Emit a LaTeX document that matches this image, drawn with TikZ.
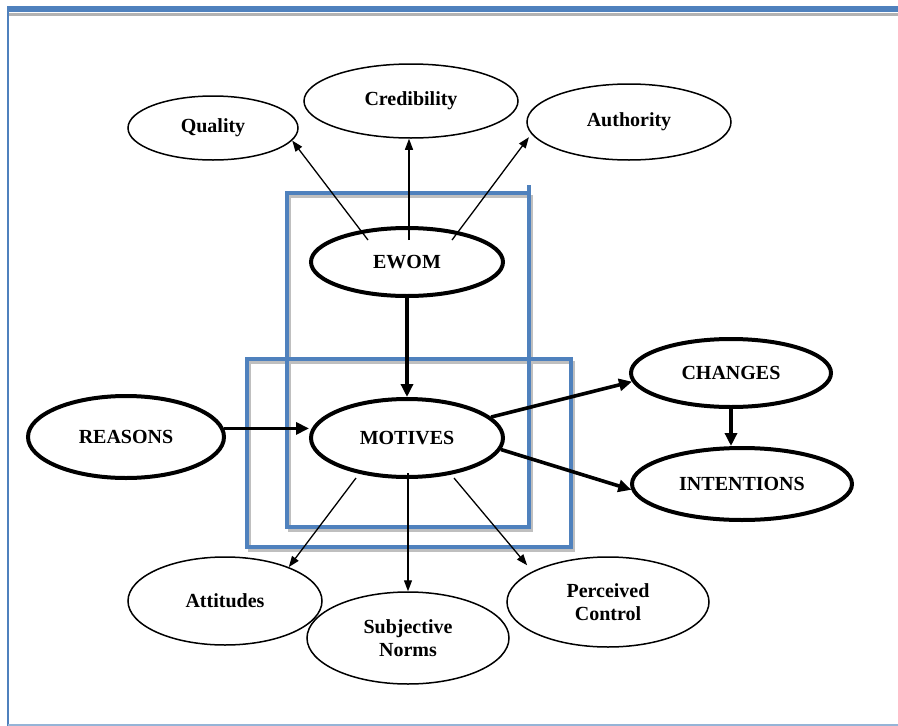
\documentclass[tikz,border=0pt]{standalone}
\usepackage{fontspec}
\setmainfont{Liberation Serif}
\usetikzlibrary{arrows.meta,shapes.geometric}
\definecolor{frameblue}{RGB}{79,129,189}
\begin{document}
\begin{tikzpicture}[x=1pt,y=-1pt,
  lbl/.style={font=\bfseries\fontsize{20}{23}\selectfont, align=center},
  thinell/.style={ellipse, draw, line width=1.5pt, inner sep=0pt, lbl},
  thickell/.style={ellipse, draw, line width=4pt, inner sep=0pt, lbl},
  thinarr/.style={line width=1.3pt, -{Triangle[length=11pt,width=8pt]}},
  thickarr/.style={line width=3.6pt, -{Triangle[length=13pt,width=12pt]}},
  bluebox/.style={draw=frameblue, line width=4pt},
  boxshadow/.style={draw=black!25, line width=3pt},
]
\useasboundingbox (0,0) rectangle (898,726);
% outer frame
\draw[black!30, line width=3pt] (8,14) -- (898,14);
\draw[frameblue, line width=6pt] (8,9) -- (898,9);
\draw[frameblue, line width=2.5pt] (8,6) -- (8,726);
\draw[frameblue!60, line width=2pt] (8,725) -- (898,725);

% blue boxes
\draw[boxshadow] (289.5,196) rectangle (531.5,530);
\draw[boxshadow] (249.5,362) rectangle (573.5,550);
\draw[bluebox] (287,193) rectangle (529,527);
\draw[bluebox] (529,185) -- (529,193);
\draw[bluebox] (247,359) rectangle (571,547);

% nodes
\node[thinell, minimum width=170pt, minimum height=64pt] (quality) at (213,128) {Quality};
\node[thinell, minimum width=214pt, minimum height=74pt] (credibility) at (411,101) {Credibility};
\node[thinell, minimum width=204pt, minimum height=76pt] (authority) at (629,122) {Authority};
\node[thickell, minimum width=192pt, minimum height=68pt] (ewom) at (407,262) {EWOM};
\node[thickell, minimum width=196pt, minimum height=82pt] (reasons) at (126,437) {REASONS};
\node[thickell, minimum width=192pt, minimum height=78pt] (motives) at (407,438) {MOTIVES};
\node[thickell, minimum width=200pt, minimum height=68pt] (changes) at (731,373) {CHANGES};
\node[thickell, minimum width=220pt, minimum height=72pt] (intentions) at (742,484) {INTENTIONS};
\node[thinell, minimum width=194pt, minimum height=88pt] (attitudes) at (225,601) {Attitudes};
\node[thinell, minimum width=202pt, minimum height=92pt] (subjective) at (408,638) {Subjective\\Norms};
\node[thinell, minimum width=202pt, minimum height=90pt] (perceived) at (608,602) {Perceived\\Control};

% free ends inside ellipses
\coordinate (ewq) at (368,240);
\coordinate (ewc) at (409,240);
\coordinate (ewa) at (452,240);
\coordinate (mva) at (356,478);
\coordinate (mvs) at (408,473);
\coordinate (mvp) at (454,478);

% connectors
\draw[thinarr] (ewq) -- (quality.-9);
\draw[thinarr] (ewc) -- (ewc |- credibility.south);
\draw[thinarr, shorten >=4pt] (ewa) -- (authority.187);
\draw[thickarr] (ewom.south) -- (motives.north);
\draw[thickarr] (reasons.5) -- (motives.west |- reasons.5);
\draw[thickarr] (motives.14) -- (changes.185);
\draw[thickarr] (motives.-7) -- (intentions.183);
\draw[thickarr] (changes.south) -- (changes.south |- intentions.north);
\draw[thinarr] (mva) -- (attitudes.28);
\draw[thinarr] (mvs) -- (mvs |- subjective.north);
\draw[thinarr, shorten >=8pt] (mvp) -- (perceived.158);
\end{tikzpicture}
\end{document}
